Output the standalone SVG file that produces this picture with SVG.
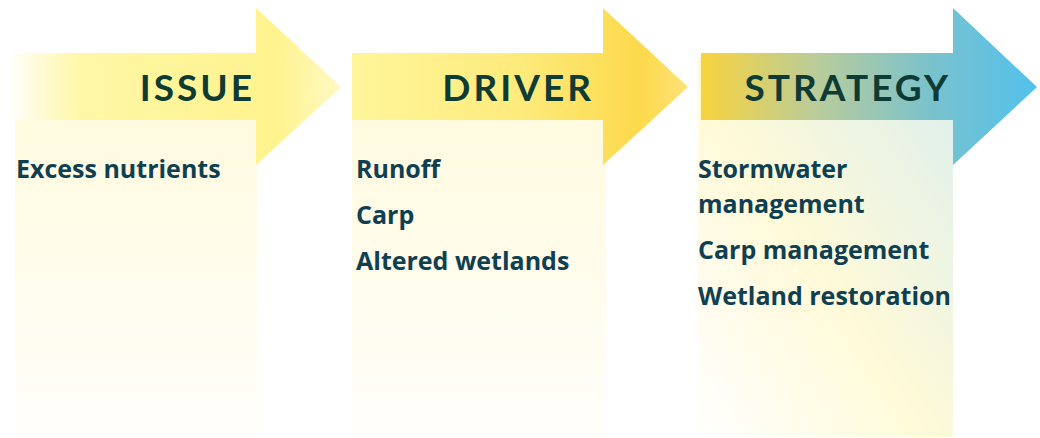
<svg xmlns="http://www.w3.org/2000/svg" width="1040" height="438" viewBox="0 0 1040 438">
<defs>
<style>
.hd{font-family:Lato,"Open Sans","Liberation Sans",sans-serif;font-weight:700;font-size:37px;fill:#0e3b33;letter-spacing:3px;text-anchor:end}
.bd{font-family:"Open Sans",Lato,"Liberation Sans",sans-serif;font-weight:700;font-size:25px;fill:#0f4052}
</style>
<linearGradient id="a1" gradientUnits="userSpaceOnUse" x1="8" y1="0" x2="341" y2="0">
<stop offset="0" stop-color="#fff59d" stop-opacity="0"/>
<stop offset="0.22" stop-color="#fff7a6"/>
<stop offset="0.8" stop-color="#fff38e"/>
<stop offset="1" stop-color="#fff9c4"/>
</linearGradient>
<linearGradient id="a2" gradientUnits="userSpaceOnUse" x1="352" y1="0" x2="688" y2="0">
<stop offset="0" stop-color="#fff59a"/>
<stop offset="0.5" stop-color="#feeb7c"/>
<stop offset="0.86" stop-color="#fcd94c"/>
<stop offset="1" stop-color="#fde27a"/>
</linearGradient>
<linearGradient id="a3" gradientUnits="userSpaceOnUse" x1="701" y1="0" x2="1037" y2="0">
<stop offset="0" stop-color="#f9d33d"/>
<stop offset="0.35" stop-color="#b8cc9c"/>
<stop offset="0.7" stop-color="#77c2cf"/>
<stop offset="1" stop-color="#53c1ec"/>
</linearGradient>
<linearGradient id="p1" x1="0" y1="0" x2="0" y2="1">
<stop offset="0" stop-color="#fffbe0"/>
<stop offset="1" stop-color="#fffefa"/>
</linearGradient>
<linearGradient id="p3" x1="0" y1="1" x2="1" y2="0">
<stop offset="0" stop-color="#ffffff"/>
<stop offset="0.45" stop-color="#fffad8"/>
<stop offset="1" stop-color="#dcefee"/>
</linearGradient>
</defs>
<g id="issue">
<rect x="15" y="120" width="242" height="318" fill="url(#p1)"/>
<polygon points="8,53 256,53 256,8 341,87 256,165 256,120 8,120" fill="url(#a1)"/>
<text class="hd" x="255" y="101">ISSUE</text>
<text class="bd" x="16" y="178">Excess nutrients</text>
</g>
<g id="driver">
<rect x="352" y="120" width="254" height="318" fill="url(#p1)"/>
<polygon points="352,53 603,53 603,8 688,87 603,165 603,120 352,120" fill="url(#a2)"/>
<text class="hd" x="594" y="101">DRIVER</text>
<text class="bd" x="356" y="178">Runoff</text>
<text class="bd" x="356" y="224">Carp</text>
<text class="bd" x="356" y="270">Altered wetlands</text>
</g>
<g id="strategy">
<rect x="698" y="57" width="255" height="380" fill="url(#p3)"/>
<polygon points="701,53 953,53 953,8 1037,87 953,165 953,120 701,120" fill="url(#a3)"/>
<text class="hd" x="951" y="101">STRATEGY</text>
<text class="bd" x="698" y="178">Stormwater</text>
<text class="bd" x="698" y="213">management</text>
<text class="bd" x="698" y="259">Carp management</text>
<text class="bd" x="698" y="305">Wetland restoration</text>
</g>
<g id="connectors"/>
</svg>
